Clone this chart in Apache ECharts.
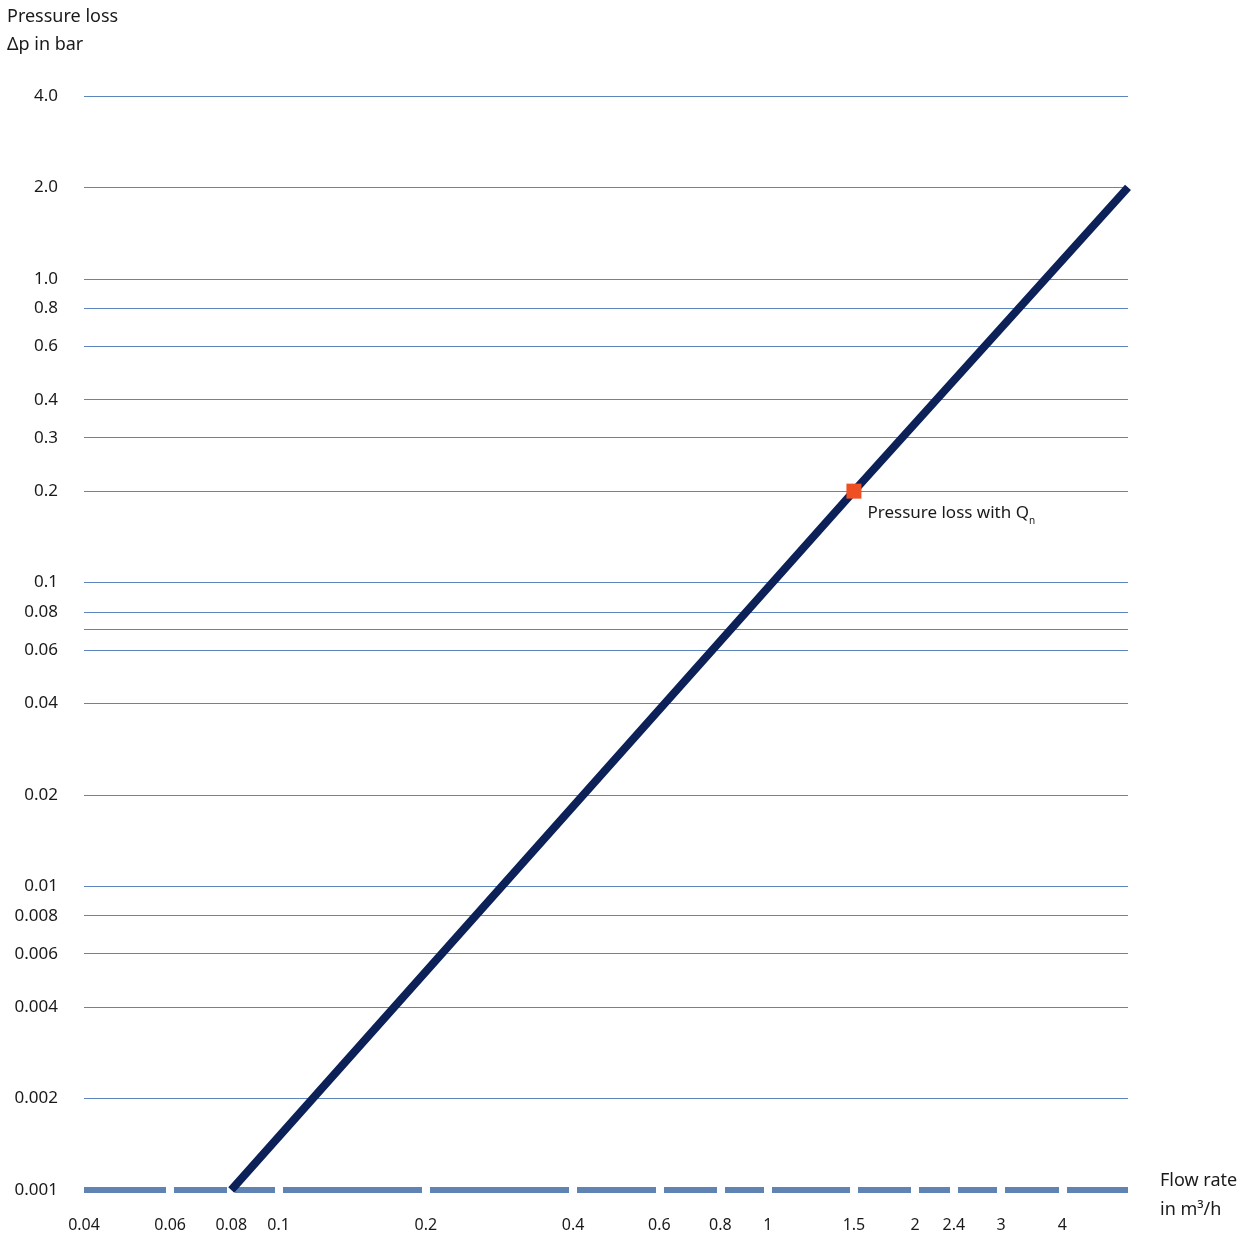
<!DOCTYPE html>
<html>
<head>
<meta charset="utf-8">
<title>Pressure loss vs. flow rate</title>
<script src="https://cdn.jsdelivr.net/npm/echarts@6/dist/echarts.min.js"></script>
<style>
  html, body { margin: 0; padding: 0; background: #ffffff; }
  #chart { width: 1248px; height: 1237px; }
</style>
</head>
<body>
<div id="chart"></div>
<script>
// Flow rate (m³/h) axis labels
const flowTicks = [0.04, 0.06, 0.08, 0.1, 0.2, 0.4, 0.6, 0.8, 1, 1.5, 2, 2.4, 3, 4];
const flowTickLabels = ['0.04', '0.06', '0.08', '0.1', '0.2', '0.4', '0.6', '0.8', '1', '1.5', '2', '2.4', '3', '4'];
const flowMin = 0.04;
const flowMax = 5.45;

// Pressure loss (bar) axis labels and grid lines
const lossTicks = [4, 2, 1, 0.8, 0.6, 0.4, 0.3, 0.2, 0.1, 0.08, 0.06, 0.04, 0.02, 0.01, 0.008, 0.006, 0.004, 0.002, 0.001];
const lossTickLabels = ['4.0', '2.0', '1.0', '0.8', '0.6', '0.4', '0.3', '0.2', '0.1', '0.08', '0.06', '0.04', '0.02', '0.01', '0.008', '0.006', '0.004', '0.002', '0.001'];
const lossGridExtra = [0.07];
const lossMin = 0.001;
const lossMax = 4;

// Pressure-loss curve: flow rate, pressure loss
const curveFlow = [0.08, 1.5, 5.45];
const curveLoss = [0.001, 0.2, 2.0];

// Nominal flow point
const nominalFlow = [1.5];
const nominalLoss = [0.2];

const lg = Math.log10;
const FONT = 'Noto Sans';
const TEXT = '#1a1a1a';

function labelFor(v, ticks, labels) {
  let best = 0, bd = Infinity;
  ticks.forEach((t, i) => {
    const d = Math.abs(lg(t) - v);
    if (d < bd) { bd = d; best = i; }
  });
  return bd < 1e-6 ? labels[best] : '';
}

const xLogTicks = flowTicks.map(lg);
const xGapTicks = flowTicks.slice(1).map(lg);
const yLogTicks = lossTicks.map(lg);
const yGridTicks = lossTicks.concat(lossGridExtra).map(lg);

const curveData = curveFlow.map((q, i) => [lg(q), lg(curveLoss[i])]);
const nominalData = nominalFlow.map((q, i) => [lg(q), lg(nominalLoss[i])]);

const chart = echarts.init(document.getElementById('chart'), null, { renderer: 'canvas' });

const xCommon = {
  type: 'value',
  min: lg(flowMin),
  max: lg(flowMax),
  position: 'bottom',
  splitLine: { show: false }
};

chart.setOption({
  animation: false,
  backgroundColor: '#ffffff',
  textStyle: { fontFamily: FONT },
  grid: { left: 84, right: 120, top: 96, bottom: 47, containLabel: false },
  xAxis: [
    Object.assign({}, xCommon, {
      axisLine: { show: true, onZero: false, lineStyle: { color: '#5f84b4', width: 6, cap: 'butt' } },
      axisTick: {
        show: true, inside: true, length: 5, customValues: xGapTicks,
        lineStyle: { color: '#ffffff', width: 8 }
      },
      axisLabel: {
        show: true, margin: 27, customValues: xLogTicks,
        color: TEXT, fontFamily: FONT, fontSize: 16,
        formatter: v => labelFor(v, flowTicks, flowTickLabels)
      }
    }),
    Object.assign({}, xCommon, {
      axisLine: { show: false, onZero: false },
      axisTick: {
        show: true, inside: false, length: 5, customValues: xGapTicks,
        lineStyle: { color: '#ffffff', width: 8 }
      },
      axisLabel: { show: false }
    })
  ],
  yAxis: {
    type: 'value',
    min: lg(lossMin),
    max: lg(lossMax),
    axisLine: { show: false },
    axisTick: { show: false, customValues: yGridTicks },
    splitLine: { show: true, lineStyle: { color: '#5c86bd', width: 1 } },
    axisLabel: {
      show: true, margin: 26, customValues: yLogTicks,
      color: TEXT, fontFamily: FONT, fontSize: 17,
      formatter: v => labelFor(v, lossTicks, lossTickLabels)
    }
  },
  series: [
    {
      type: 'line',
      xAxisIndex: 0,
      data: curveData,
      symbol: 'none',
      lineStyle: { color: '#0d2159', width: 8, cap: 'butt' },
      z: 3
    },
    {
      type: 'scatter',
      xAxisIndex: 0,
      data: nominalData,
      symbol: 'rect',
      symbolSize: 15,
      itemStyle: { color: '#ee4f23', opacity: 1 },
      z: 4,
      label: {
        show: true,
        position: 'right',
        distance: 5,
        offset: [1, 22],
        formatter: 'Pressure loss with Q{s|n}',
        color: TEXT,
        fontFamily: FONT,
        fontSize: 17,
        lineHeight: 26,
        rich: {
          s: { fontSize: 10, lineHeight: 10, verticalAlign: 'bottom', color: TEXT, fontFamily: FONT }
        }
      }
    }
  ],
  graphic: [
    { type: 'text', left: 7, top: 8, style: { text: 'Pressure loss', font: '18px "Noto Sans"', fill: TEXT } },
    { type: 'text', left: 7, top: 36, style: { text: 'Δp in bar', font: '18px "Noto Sans"', fill: TEXT } },
    { type: 'text', left: 1160, top: 1172, style: { text: 'Flow rate', font: '18px "Noto Sans"', fill: TEXT } },
    { type: 'text', left: 1160, top: 1201, style: { text: 'in m³/h', font: '18px "Noto Sans"', fill: TEXT } }
  ]
});
</script>
</body>
</html>
